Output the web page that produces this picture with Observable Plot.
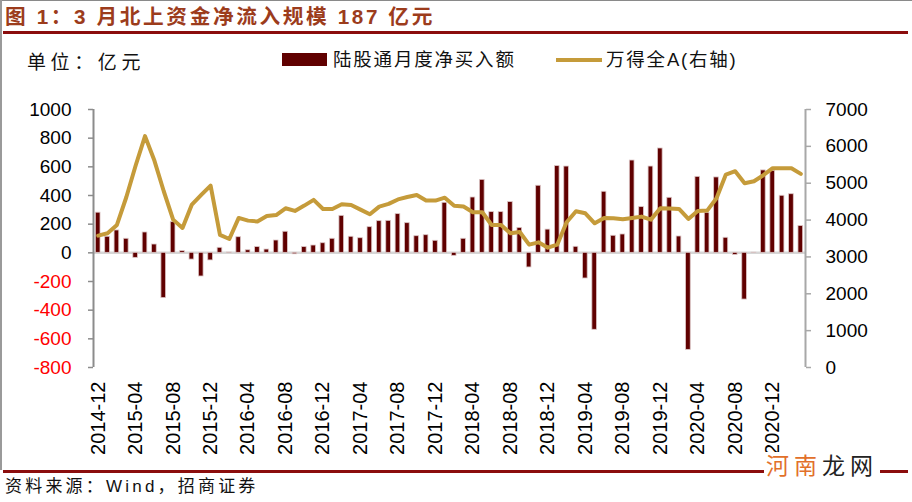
<!DOCTYPE html>
<html>
<head>
<meta charset="utf-8">
<script src="https://cdn.jsdelivr.net/npm/d3@7"></script>
<script src="https://cdn.jsdelivr.net/npm/@observablehq/plot@0.6"></script>
<style>
  body { margin: 0; background: #fff; }
  #wrap { position: relative; width: 912px; height: 502px; background: #fff; overflow: hidden;
          font-family: "Liberation Sans", Arial, "Noto Sans CJK SC", sans-serif; }
  .abs { position: absolute; white-space: nowrap; }
  .cjk { font-family: "Liberation Sans", Arial, "Noto Sans CJK SC", sans-serif; }
</style>
</head>
<body>
<div id="wrap">
  <div class="abs" style="left:0;top:0;width:912px;height:1px;background:#8a8a8a"></div>
  <div class="abs" style="left:0;top:0;width:2px;height:470px;background:#9a9a9a"></div>

  <div class="abs cjk" id="title" style="left:5px;top:6px;font-size:20.7px;line-height:22px;font-weight:bold;color:#9C3C1C;letter-spacing:2.6px"></div>
  <div class="abs" style="left:3px;top:31px;width:905px;height:2.5px;background:#8B0D0D"></div>

  <div class="abs cjk" id="unit" style="left:27px;top:53px;font-size:19px;line-height:20px;color:#111;letter-spacing:4.6px"></div>

  <div class="abs" style="left:282px;top:53px;width:45px;height:13px;background:#600000"></div>
  <div class="abs cjk" id="leg1" style="left:333px;top:50px;font-size:18.5px;line-height:20px;color:#111;letter-spacing:1.8px"></div>
  <div class="abs" style="left:556px;top:58px;width:46px;height:4px;background:#C59B3A"></div>
  <div class="abs cjk" id="leg2" style="left:606px;top:50px;font-size:18.5px;line-height:20px;color:#111;letter-spacing:1.8px"></div>

  <div class="abs" id="chart" style="left:0;top:95px"></div>

  <div class="abs" style="left:3px;top:469.5px;width:905px;height:3px;background:#8B0D0D"></div>
  <div class="abs cjk" style="left:764px;top:452px;font-size:23px;line-height:28px;letter-spacing:5px;background:#fff;padding:0 2px"><span style="color:#E2702A">河南</span><span style="color:#222">龙网</span></div>

  <div class="abs cjk" id="source" style="left:5px;top:477px;font-size:17px;line-height:19px;color:#111;letter-spacing:3.2px"></div>
</div>
<script>
// ---- texts ----
const titleText = "图 1：3 月北上资金净流入规模 187 亿元";
const unitText = "单位：亿元";
const seriesBarName = "陆股通月度净买入额";
const seriesLineName = "万得全A(右轴)";
const sourceText = "资料来源：Wind，招商证券";

// ---- categories (months) ----
const months = [
  "2014-12",
  "2015-01","2015-02","2015-03","2015-04","2015-05","2015-06","2015-07","2015-08","2015-09","2015-10","2015-11","2015-12",
  "2016-01","2016-02","2016-03","2016-04","2016-05","2016-06","2016-07","2016-08","2016-09","2016-10","2016-11","2016-12",
  "2017-01","2017-02","2017-03","2017-04","2017-05","2017-06","2017-07","2017-08","2017-09","2017-10","2017-11","2017-12",
  "2018-01","2018-02","2018-03","2018-04","2018-05","2018-06","2018-07","2018-08","2018-09","2018-10","2018-11","2018-12",
  "2019-01","2019-02","2019-03","2019-04","2019-05","2019-06","2019-07","2019-08","2019-09","2019-10","2019-11","2019-12",
  "2020-01","2020-02","2020-03","2020-04","2020-05","2020-06","2020-07","2020-08","2020-09","2020-10","2020-11","2020-12",
  "2021-01","2021-02","2021-03"
];

// ---- 陆股通月度净买入额 (亿元, left axis) ----
const netBuy = [
  280,
  112,156,98,-35,142,58,-316,214,12,-47,-165,-53,
  35,2,109,18,40,23,86,147,-10,40,51,67,
  98,258,112,102,179,221,223,270,207,116,123,84,
  349,-21,98,386,509,284,284,354,174,-102,468,162,
  605,602,42,-179,-537,426,119,128,644,319,602,728,
  384,114,-677,530,279,526,105,-15,-326,1,575,572,
  398,409,187
];

// ---- 万得全A (right axis) ----
const windA = [
  3578,
  3641,3867,4619,5480,6277,5615,4782,4012,3786,4420,4683,4936,
  3596,3487,4058,3985,3962,4108,4135,4320,4248,4393,4547,4302,
  4302,4429,4411,4284,4157,4366,4438,4560,4625,4680,4529,4529,
  4608,4390,4366,4212,4212,3867,3867,3640,3677,3333,3396,3250,
  3333,3940,4239,4184,3912,4058,4048,4021,4058,4094,4012,4320,
  4311,4302,4030,4244,4257,4592,5235,5325,5000,5054,5217,5407,
  5407,5407,5253
];

// ---- axis ticks ----
const leftTicks = [-800,-600,-400,-200,0,200,400,600,800,1000];
const rightTicks = [0,1000,2000,3000,4000,5000,6000,7000];
const xLabelMonths = ["2014-12","2015-04","2015-08","2015-12","2016-04","2016-08","2016-12","2017-04","2017-08","2017-12",
                      "2018-04","2018-08","2018-12","2019-04","2019-08","2019-12","2020-04","2020-08","2020-12"];

document.getElementById("title").textContent = titleText;
document.getElementById("unit").textContent = unitText;
document.getElementById("leg1").textContent = seriesBarName;
document.getElementById("leg2").textContent = seriesLineName;
document.getElementById("source").textContent = sourceText;

// right-axis domain [0,7000] shares the frame with left domain [-800,1000]
const L0 = -800, L1 = 1000, R0 = 0, R1 = 7000;
const toLeft = v => L0 + (v - R0) * (L1 - L0) / (R1 - R0);
const toRight = v => R0 + (v - L0) * (R1 - R0) / (L1 - L0);

const rows = months.map((m, i) => ({i, month: m, flow: netBuy[i], wind: windA[i]}));
const labelIdx = xLabelMonths.map(m => months.indexOf(m));

const axisStyle = {stroke: "#8c8c8c", strokeWidth: 1.5, label: null};

const chart = Plot.plot({
  width: 912,
  height: 375,
  marginTop: 14,
  marginBottom: 103,
  marginLeft: 93,
  marginRight: 107,
  x: {type: "linear", domain: [-0.5, months.length - 0.5], axis: null},
  y: {domain: [L0, L1], axis: null, label: null},
  style: {fontFamily: "'Liberation Sans', Arial, sans-serif", fontSize: "19px", color: "#000", background: "transparent", overflow: "visible"},
  marks: [
    Plot.ruleY([0], {stroke: "#d6d6d6", strokeWidth: 2.5}),
    Plot.rect(rows, {x1: d => d.i - 0.25, x2: d => d.i + 0.25, y1: 0, y2: "flow", fill: "#600000", stroke: "#dcc6c6", strokeWidth: 0.8}),
    Plot.line(rows, {x: "i", y: d => toLeft(d.wind), stroke: "#C59B3A", strokeWidth: 4, strokeLinejoin: "round", strokeLinecap: "round"}),
    Plot.ruleX([-0.5], {y1: L0, y2: L1, stroke: "#8c8c8c", strokeWidth: 2}),
    Plot.ruleX([months.length - 0.5], {y1: L0, y2: L1, stroke: "#a8a8a8", strokeWidth: 2}),
    Plot.axisY({...axisStyle, anchor: "left", ticks: leftTicks.filter(v => v >= 0), tickFormat: d => String(d), tickSize: 5, tickPadding: 17, fill: "#000"}),
    Plot.axisY({...axisStyle, anchor: "left", ticks: leftTicks.filter(v => v < 0), tickFormat: d => String(d), tickSize: 5, tickPadding: 17, fill: "#ff0000"}),
    Plot.axisY({...axisStyle, stroke: "#a8a8a8", anchor: "right", ticks: rightTicks.map(toLeft), tickFormat: d => String(Math.round(toRight(d))), tickSize: 5, tickPadding: 15, fill: "#000"}),
    Plot.axisX({label: null, ticks: labelIdx, tickFormat: i => months[i], tickRotate: -90, tickSize: 0, tickPadding: 14, fontSize: 20, fill: "#000"})
  ]
});
document.getElementById("chart").appendChild(chart);
</script>
</body>
</html>
